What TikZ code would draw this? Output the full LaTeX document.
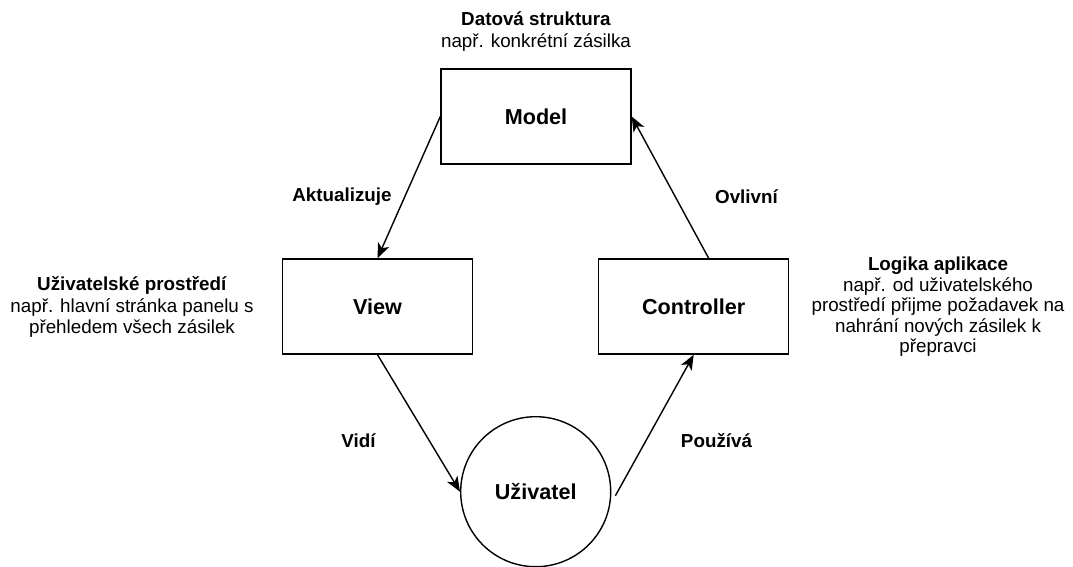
\documentclass[tikz,border=0pt]{standalone}
\usepackage{fontspec}
\setmainfont{Liberation Sans}
\usetikzlibrary{arrows.meta}

\begin{document}
\begin{tikzpicture}[x=1pt,y=-1pt,
  box/.style={draw, line width=1.4pt, minimum width=190pt, minimum height=95pt, inner sep=0pt,
              font=\fontsize{21.6}{24}\selectfont\bfseries},
  person/.style={draw, circle, line width=1.4pt, minimum size=150pt, inner sep=0pt,
              font=\fontsize{21.6}{24}\selectfont\bfseries},
  flow/.style={line width=1.4pt, -{Stealth[length=15pt,width=12pt,inset=4pt]}},
  edgelabel/.style={font=\fontsize{18.8}{22}\selectfont\bfseries, inner sep=0pt},
  note/.style={align=center, inner sep=0pt, font=\fontsize{18.8}{21.5}\selectfont}
]
\useasboundingbox (0,0) rectangle (1073,567);

% the three MVC parts and the user
\node[box] (model) at (536,116.5) {Model};
\node[box] (view) at (377.5,306.5) {View};
\node[box] (ctrl) at (693.7,306.5) {Controller};
\node[person] (user) at (535.7,491.7) {Uživatel};

% descriptions beside the parts
\node[note] (modelnote) at (536,31.5) {\textbf{Datová struktura}\\např. konkrétní zásilka};
\node[note] (viewnote) at (132,307) {\textbf{Uživatelské prostředí}\\např. hlavní stránka panelu s\\přehledem všech zásilek};
\node[note, font=\fontsize{18.8}{20.5}\selectfont] (ctrlnote) at (938,307) {\textbf{Logika aplikace}\\např. od uživatelského\\prostředí přijme požadavek na\\nahrání nových zásilek k\\přepravci};

% the cycle between the parts
\draw[flow] (model.west) -- (view.north);
\draw[flow] (view.south) -- (user.west);
\draw[flow] ([xshift=4pt,yshift=-4pt]user.east) -- (ctrl.south);
\draw[flow] ([xshift=15pt]ctrl.north) -- (model.east);

% labels of the connectors
\node[edgelabel] (lupd) at (342,197) {Aktualizuje};
\node[edgelabel] (laff) at (746.5,197) {Ovlivní};
\node[edgelabel] (lsee) at (358.5,441) {Vidí};
\node[edgelabel] (luse) at (716.5,441) {Používá};
\end{tikzpicture}
\end{document}
